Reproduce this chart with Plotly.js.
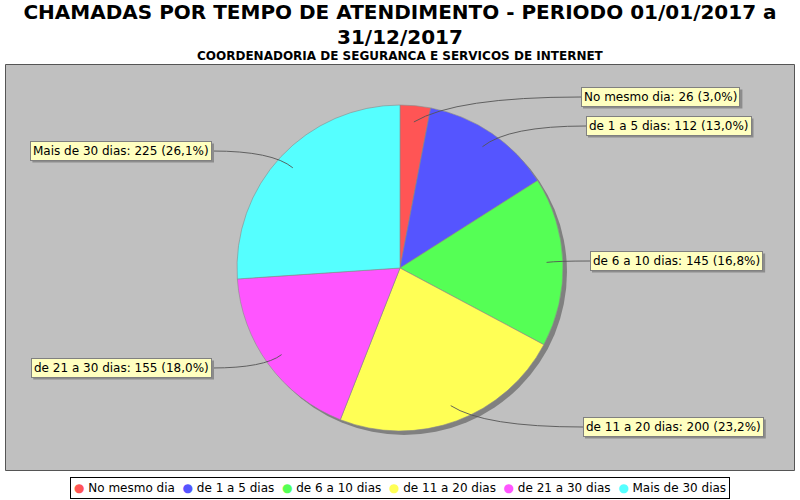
<!DOCTYPE html>
<html>
<head>
<meta charset="utf-8">
<script src="https://cdn.plot.ly/plotly-3.0.1.min.js"></script>
<style>html,body{margin:0;padding:0;background:#fff;}#chart{width:800px;height:500px;}</style>
</head>
<body>
<div id="chart"></div>
<script>
// ---- data ----
const labels = ['No mesmo dia', 'de 1 a 5 dias', 'de 6 a 10 dias', 'de 11 a 20 dias', 'de 21 a 30 dias', 'Mais de 30 dias'];
const values = [26, 112, 145, 200, 155, 225];
const colors = ['#ff5555', '#5555ff', '#55ff55', '#ffff55', '#ff55ff', '#55ffff'];
const titleLine1 = 'CHAMADAS POR TEMPO DE ATENDIMENTO - PERIODO 01/01/2017 a';
const titleLine2 = '31/12/2017';
const subtitleText = 'COORDENADORIA DE SEGURANCA E SERVICOS DE INTERNET';

// ---- layout constants (pixels) ----
const W = 800, H = 500;
const CX = 400, CY = 268, R = 163;
const FONT = 'DejaVu Sans';
const LFS = 12;     // label font size
const PAD = 2;      // label box padding
// label box anchor positions: x = box edge nearest the pie, y = box centre
const labelPos = [
  {x: 581, y: 97,  side: 'right'},
  {x: 586, y: 126, side: 'right'},
  {x: 590, y: 261, side: 'right'},
  {x: 583, y: 427, side: 'right'},
  {x: 212, y: 368, side: 'left'},
  {x: 212, y: 151, side: 'left'}
];

const px = x => x / W;
const py = y => 1 - y / H;

const total = values.reduce((a, b) => a + b, 0);
const fmtPct = v => (v / total * 100).toFixed(1).replace('.', ',');

const ctx = document.createElement('canvas').getContext('2d');
ctx.font = LFS + 'px "' + FONT + '"';

const pie = {
  type: 'pie',
  labels: labels,
  values: values,
  sort: false,
  direction: 'clockwise',
  rotation: 0,
  textinfo: 'none',
  hoverinfo: 'label+value+percent',
  showlegend: false,
  marker: {colors: colors, line: {color: '#8a8a8a', width: 0.6}},
  domain: {x: [px(CX - R), px(CX + R)], y: [py(CY + R), py(CY - R)]}
};
const SH = 4;
const shadow = {
  type: 'pie',
  labels: ['shadow'],
  values: [1],
  sort: false,
  textinfo: 'none',
  hoverinfo: 'skip',
  showlegend: false,
  marker: {colors: ['#808080'], line: {width: 0}},
  domain: {x: [px(CX - R + SH), px(CX + R + SH)], y: [py(CY + R + SH), py(CY - R + SH)]}
};

const shapes = [{
  type: 'rect', xref: 'paper', yref: 'paper', layer: 'below',
  x0: px(5.5), x1: px(794.5), y0: py(470.5), y1: py(64.5),
  fillcolor: '#c0c0c0', line: {color: '#555555', width: 1}
}];
const annotations = [
  {
    xref: 'paper', yref: 'paper', x: 0.5, y: py(37), xanchor: 'center', yanchor: 'middle',
    text: titleLine2, showarrow: false,
    font: {family: FONT, size: 20, color: '#000', weight: 'bold'}
  },
  {
    xref: 'paper', yref: 'paper', x: 0.5, y: py(56.5), xanchor: 'center', yanchor: 'middle',
    text: subtitleText, showarrow: false,
    font: {family: FONT, size: 12, color: '#000', weight: 'bold'}
  }
];

let cum = 0;
values.forEach((v, i) => {
  const mid = (cum + v / 2) / total * 2 * Math.PI;
  cum += v;
  const lx = CX + Math.sin(mid) * R * 0.9;
  const ly = CY - Math.cos(mid) * R * 0.9;
  const p = labelPos[i];
  const tx = p.x, ty = p.y;
  const cxp = lx + (tx - lx) * 0.25, cyp = ty;
  shapes.push({
    type: 'path', xref: 'paper', yref: 'paper', layer: 'above',
    path: `M ${px(lx)},${py(ly)} Q ${px(cxp)},${py(cyp)} ${px(tx)},${py(ty)}`,
    line: {color: '#555555', width: 0.9}
  });
  const txt = `${labels[i]}: ${v} (${fmtPct(v)}%)`;
  // shadow box behind the label
  const bw = ctx.measureText(txt).width + 2 * PAD + 2;
  const bh = 19;
  const bx0 = p.side === 'right' ? tx : tx - bw;
  shapes.push({
    type: 'rect', xref: 'paper', yref: 'paper', layer: 'above',
    x0: px(bx0 + 2), x1: px(bx0 + bw + 2), y0: py(ty - bh / 2 + 2), y1: py(ty + bh / 2 + 2),
    fillcolor: '#8c8c8c', line: {width: 0}
  });
  annotations.push({
    xref: 'paper', yref: 'paper', x: px(tx), y: py(ty),
    xanchor: p.side === 'right' ? 'left' : 'right', yanchor: 'middle',
    text: txt, showarrow: false, bgcolor: '#ffffc0', bordercolor: '#808080', borderwidth: 1, borderpad: PAD,
    font: {family: FONT, size: LFS, color: '#000'}
  });
});

// legend
const legendText = labels.map((l, i) => `<span style="color:${colors[i]}">●</span> ${l}`).join('&nbsp; ');
annotations.push({
  xref: 'paper', yref: 'paper', x: 0.5, y: py(487.5), xanchor: 'center', yanchor: 'middle',
  text: legendText, showarrow: false, bgcolor: '#ffffff', bordercolor: '#000000', borderwidth: 1, borderpad: 3,
  font: {family: FONT, size: 12, color: '#000'}
});

const layout = {
  width: W, height: H,
  margin: {l: 0, r: 0, t: 0, b: 0},
  paper_bgcolor: '#ffffff',
  title: {
    text: titleLine1, x: 0.5, xanchor: 'center', y: py(12), yanchor: 'middle',
    font: {family: FONT, size: 20, color: '#000', weight: 'bold'}
  },
  showlegend: false,
  shapes: shapes,
  annotations: annotations
};

Plotly.newPlot('chart', [shadow, pie], layout, {displayModeBar: false, staticPlot: true});
</script>
</body>
</html>
